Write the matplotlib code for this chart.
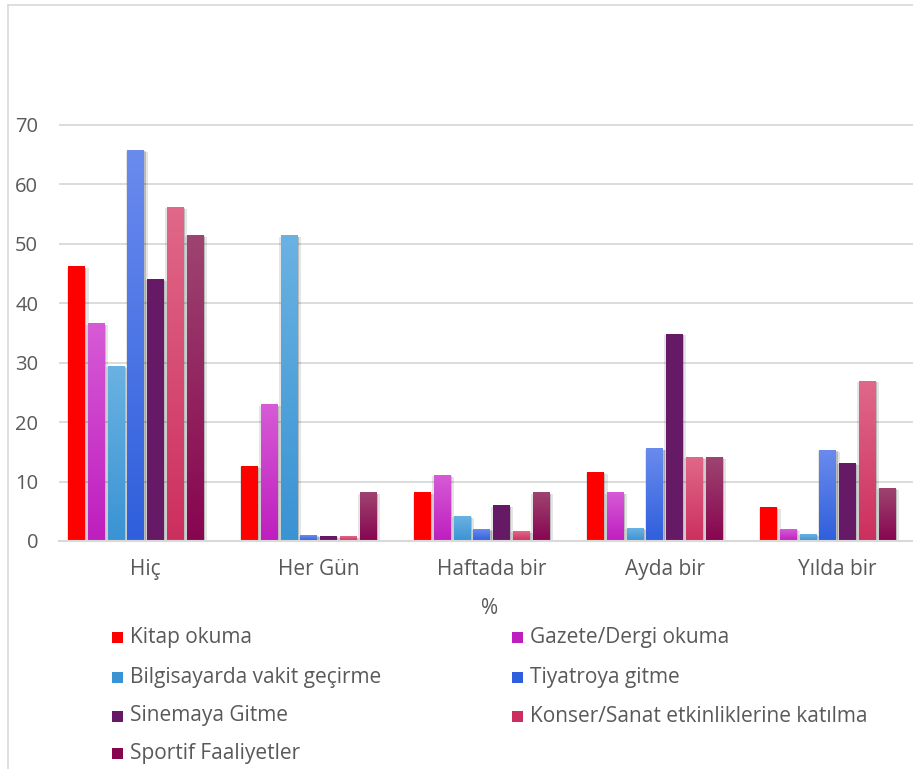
import numpy as np
import matplotlib
matplotlib.use("Agg")
import matplotlib.pyplot as plt
from matplotlib.colors import LinearSegmentedColormap
from matplotlib.patches import Rectangle
import matplotlib.patheffects as pe

plt.rcParams['font.family'] = ['Open Sans', 'DejaVu Sans']

categories = ["Hiç", "Her Gün", "Haftada bir", "Ayda bir", "Yılda bir"]
series_names = ["Kitap okuma", "Gazete/Dergi okuma", "Bilgisayarda vakit geçirme",
                "Tiyatroya gitme", "Sinemaya Gitme",
                "Konser/Sanat etkinliklerine katılma", "Sportif Faaliyetler"]
kitap = [46.1, 12.5, 8.1, 11.5, 5.6]
gazete = [36.5, 22.9, 11.0, 8.1, 1.9]
bilgisayar = [29.4, 51.3, 4.1, 2.1, 1.1]
tiyatro = [65.7, 0.9, 1.9, 15.5, 15.2]
sinema = [44.0, 0.8, 5.9, 34.8, 13.0]
konser = [56.1, 0.7, 1.6, 14.0, 26.9]
sportif = [51.4, 8.1, 8.1, 14.0, 8.8]
values = [kitap, gazete, bilgisayar, tiyatro, sinema, konser, sportif]

# (top colour, bottom colour) gradients
colors_top = ["#FF0000", "#D65BD6", "#6AB2E2", "#6A8BEE", "#661A66", "#E06888", "#9E4470"]
colors_bot = ["#FF0000", "#BE1EBE", "#3A93D3", "#2F5FDC", "#661A66", "#CC2F5E", "#870550"]

yticks = [0, 10, 20, 30, 40, 50, 60, 70]
x_label = "%"

W, H = 913, 769
fig = plt.figure(figsize=(W / 100, H / 100), dpi=100)

ax_left, ax_right = 59, 924
y0_px, ytop_px = 541, 95
ymax = 75
ax = fig.add_axes([ax_left / W, 1 - y0_px / H, (ax_right - ax_left) / W, (y0_px - ytop_px) / H])

n_series = len(values)
slot = 0.114
bar_w = 0.093
group_shift = -0.058
x = np.arange(len(categories))

for i, vals in enumerate(values):
    xs = x + group_shift + (i - (n_series - 1) / 2) * slot
    bars = ax.bar(xs, vals, width=bar_w, color=colors_bot[i], zorder=3,
                  path_effects=[pe.SimplePatchShadow(offset=(3.0, -1.0), shadow_rgbFace="#000000", alpha=0.10),
                                pe.SimplePatchShadow(offset=(1.5, -0.5), shadow_rgbFace="#000000", alpha=0.18),
                                pe.SimplePatchShadow(offset=(-1.2, -0.5), shadow_rgbFace="#000000", alpha=0.10),
                                pe.Normal()])
    cmap = LinearSegmentedColormap.from_list("g%d" % i, [colors_bot[i], colors_top[i]])
    grad = np.linspace(0, 1, 128).reshape(-1, 1)
    for r in bars:
        bx, by, bw, bh = r.get_x(), r.get_y(), r.get_width(), r.get_height()
        ax.imshow(grad, extent=[bx, bx + bw, by, by + bh], origin="lower",
                  cmap=cmap, aspect="auto", zorder=4, interpolation="bilinear")

ax.set_xlim(-0.5, len(categories) - 0.5)
ax.set_ylim(0, ymax)
ax.set_yticks(yticks)
ax.set_xticks(x)
ax.set_xticklabels(categories)
ax.yaxis.grid(True, color="#D9D9D9", linewidth=1.3, zorder=0)
ax.set_axisbelow(True)
for s in ["top", "right", "left"]:
    ax.spines[s].set_visible(False)
ax.spines["bottom"].set_color("#D9D9D9")
ax.spines["bottom"].set_linewidth(1.5)
ax.spines["bottom"].set_zorder(5)
ax.tick_params(axis="y", length=0, labelsize=14.5, colors="#595959", pad=15)
ax.tick_params(axis="x", length=0, labelsize=15, colors="#595959", pad=13)
for t in ax.get_xticklabels() + ax.get_yticklabels():
    t.set_color("#595959")
ax.patch.set_alpha(0)

fig.text(490 / W, 1 - 609 / H, x_label, ha="center", va="center", fontsize=15, color="#595959")

# legend (2 columns)
col_x = [117, 517]
row_y = [637, 677, 716, 753]
for i, name in enumerate(series_names):
    cx = col_x[i % 2]
    cy = row_y[i // 2]
    sq = 11
    fig.patches.append(Rectangle(((cx - sq / 2) / W, 1 - (cy + sq / 2) / H), sq / W, sq / H,
                                 transform=fig.transFigure, facecolor=colors_bot[i],
                                 edgecolor="none"))
    fig.text((cx + 13) / W, 1 - cy / H, name, ha="left", va="center",
             fontsize=15, color="#595959")

# outer chart border
fig.add_artist(plt.Line2D([8 / W, 8 / W], [0, 1 - 5 / H], transform=fig.transFigure,
                          color="#D9D9D9", linewidth=1.2))
fig.add_artist(plt.Line2D([8 / W, 1], [1 - 5 / H, 1 - 5 / H], transform=fig.transFigure,
                          color="#D9D9D9", linewidth=1.2))

fig.savefig("out.png", dpi=100)
